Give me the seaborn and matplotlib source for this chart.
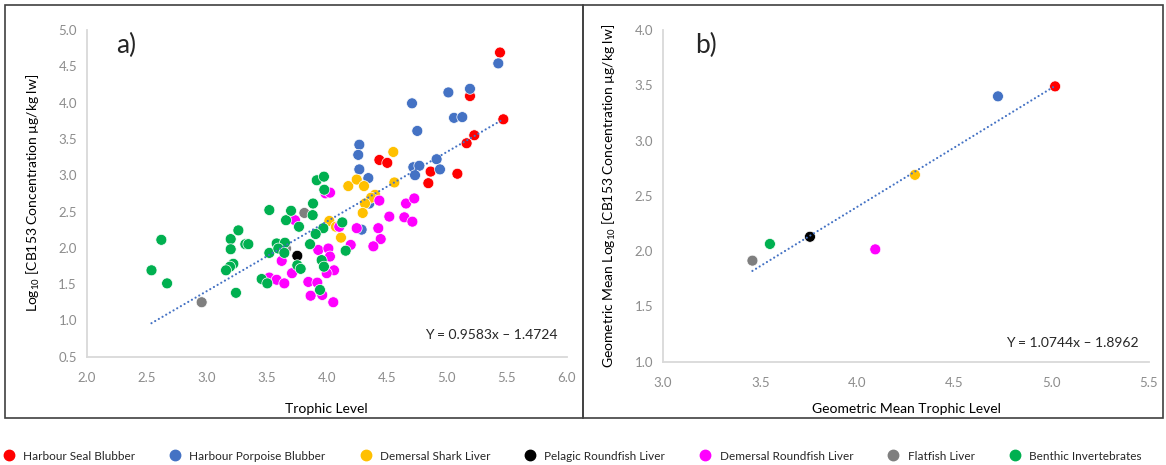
import numpy as np
import pandas as pd
import matplotlib
matplotlib.use("Agg")
import matplotlib.pyplot as plt
import seaborn as sns
from matplotlib.patches import Rectangle
from matplotlib.lines import Line2D

# ---------------- data ----------------
groups = ["Harbour Seal Blubber", "Harbour Porpoise Blubber", "Demersal Shark Liver",
          "Pelagic Roundfish Liver", "Demersal Roundfish Liver", "Flatfish Liver",
          "Benthic Invertebrates"]
colors = ["#FF0000", "#4472C4", "#FFC000", "#000000", "#FF00FF", "#7F7F7F", "#00B050"]

seal_x = [5.444, 5.194, 5.472, 5.230, 5.166, 4.439, 4.505, 4.866, 5.089, 4.847]
seal_y = [4.69, 4.09, 3.77, 3.55, 3.44, 3.21, 3.17, 3.05, 3.02, 2.89]

porp_x = [5.430, 5.194, 5.014, 4.711, 5.061, 5.130, 4.755, 4.916, 4.722, 4.772,
          4.944, 4.736, 4.272, 4.263, 4.272, 4.347, 4.355, 4.291]
porp_y = [4.54, 4.19, 4.14, 3.99, 3.79, 3.80, 3.61, 3.22, 3.11, 3.13,
          3.08, 3.00, 3.42, 3.28, 3.08, 2.96, 2.61, 2.25]

shark_x = [4.555, 4.564, 4.18, 4.25, 4.311, 4.403, 4.37, 4.319, 4.30, 4.022, 4.077, 4.119]
shark_y = [3.32, 2.90, 2.85, 2.94, 2.85, 2.73, 2.69, 2.61, 2.48, 2.37, 2.29, 2.14]

pel_x = [3.755]
pel_y = [1.89]

dem_x = [3.736, 3.99, 4.028, 4.105, 4.25, 4.43, 4.45, 4.389, 4.20, 3.93,
         4.014, 4.027, 4.061, 4.00, 3.625, 3.711, 3.522, 3.583, 3.647, 3.847,
         3.922, 3.866, 3.963, 4.055, 4.439, 4.661, 4.730, 4.522, 4.647, 4.714]
dem_y = [2.38, 2.75, 2.76, 2.29, 2.27, 2.27, 2.12, 2.02, 2.04, 1.97,
         1.99, 1.88, 1.69, 1.65, 1.82, 1.65, 1.59, 1.56, 1.51, 1.53,
         1.52, 1.34, 1.35, 1.25, 2.65, 2.61, 2.68, 2.43, 2.42, 2.36]

flat_x = [2.958, 3.814, 3.661]
flat_y = [1.25, 2.48, 1.99]

ben_x = [2.54, 2.622, 2.67, 3.522, 3.264, 3.200, 3.200, 3.322, 3.347, 3.222,
         3.194, 3.161, 3.244, 3.458, 3.505, 3.522, 3.583, 3.652, 3.597, 3.647,
         3.661, 3.703, 3.769, 3.886, 3.883, 3.917, 3.977, 3.980, 3.972, 4.130,
         3.908, 3.861, 3.958, 3.977, 3.755, 3.783, 4.158, 3.944]
ben_y = [1.69, 2.11, 1.51, 2.52, 2.24, 2.12, 1.98, 2.05, 2.05, 1.78,
         1.74, 1.69, 1.38, 1.57, 1.51, 1.93, 2.06, 2.07, 1.99, 1.93,
         2.38, 2.51, 2.29, 2.61, 2.45, 2.93, 2.98, 2.80, 2.27, 2.35,
         2.19, 2.05, 1.83, 1.74, 1.76, 1.71, 1.96, 1.42]

# panel b: geometric means (same group order)
gm_x = [5.017, 4.723, 4.296, 3.756, 4.092, 3.46, 3.55]
gm_y = [3.49, 3.40, 2.69, 2.13, 2.016, 1.914, 2.065]

fit_a = (0.9583, -1.4724)
fit_b = (1.0744, -1.8962)
eq_a = "Y = 0.9583x – 1.4724"
eq_b = "Y = 1.0744x – 1.8962"

xticks_a = [2.0, 2.5, 3.0, 3.5, 4.0, 4.5, 5.0, 5.5, 6.0]
yticks_a = [0.5, 1.0, 1.5, 2.0, 2.5, 3.0, 3.5, 4.0, 4.5, 5.0]
xticks_b = [3.0, 3.5, 4.0, 4.5, 5.0, 5.5]
yticks_b = [1.0, 1.5, 2.0, 2.5, 3.0, 3.5, 4.0]

# ---------------- frames ----------------
xs = [seal_x, porp_x, shark_x, pel_x, dem_x, flat_x, ben_x]
ys = [seal_y, porp_y, shark_y, pel_y, dem_y, flat_y, ben_y]
dfa = pd.concat([pd.DataFrame({"x": x, "y": y, "group": g}) for x, y, g in zip(xs, ys, groups)],
                ignore_index=True)
dfb = pd.DataFrame({"x": gm_x, "y": gm_y, "group": groups})

# ---------------- style ----------------
sns.set_theme(style="white")
plt.rcParams["font.family"] = ["Lato", "DejaVu Sans"]
plt.rcParams["mathtext.fontset"] = "custom"
plt.rcParams["mathtext.rm"] = "Lato"
plt.rcParams["mathtext.it"] = "Lato:italic"

W, H = 1166, 465
fig = plt.figure(figsize=(W / 100, H / 100), dpi=100)

def fx(px):
    return px / W

def fy(py):
    return 1 - py / H

ax_a = fig.add_axes([fx(86.7), fy(356.7), fx(566.7 - 86.7), (356.7 - 30) / H])
ax_b = fig.add_axes([fx(663), fy(361.7), fx(1149 - 663), (361.7 - 30) / H])

pal = dict(zip(groups, colors))
for ax, df in ((ax_a, dfa), (ax_b, dfb)):
    sns.scatterplot(data=df, x="x", y="y", hue="group", hue_order=groups, palette=pal,
                    s=62, edgecolor="white", linewidth=0.5, legend=False, ax=ax, zorder=3)

# trend lines (dotted)
for ax, df, (m, c) in ((ax_a, dfa, fit_a), (ax_b, dfb, fit_b)):
    lx = np.array([df["x"].min(), df["x"].max()])
    ax.plot(lx, m * lx + c, color="#4472C4", lw=1.6, ls=(0, (0.01, 1.9)),
            dash_capstyle="round", zorder=4)

tick_col = "#8C8C8C"
for ax, xt, yt in ((ax_a, xticks_a, yticks_a), (ax_b, xticks_b, yticks_b)):
    ax.set_xlim(xt[0], xt[-1])
    ax.set_ylim(yt[0], yt[-1])
    ax.set_xticks(xt)
    ax.set_yticks(yt)
    ax.set_xticklabels([f"{v:.1f}" for v in xt])
    ax.set_yticklabels([f"{v:.1f}" for v in yt])
    ax.tick_params(axis="both", length=0, labelsize=9.5, colors=tick_col)
    ax.tick_params(axis="x", pad=11)
    ax.tick_params(axis="y", pad=7)
    for s in ("top", "right"):
        ax.spines[s].set_visible(False)
    for s in ("left", "bottom"):
        ax.spines[s].set_color("#D9D9D9")
        ax.spines[s].set_linewidth(1.3)
    ax.grid(False)
    ax.set_facecolor("none")

ax_a.set_xlabel("Trophic Level", fontsize=10, color="black", labelpad=14)
ax_a.set_ylabel(r"Log$_{\mathrm{10}}$ [CB153 Concentration µg/kg lw]", fontsize=10,
                color="black", labelpad=12)
ax_b.set_xlabel("Geometric Mean Trophic Level", fontsize=10, color="black", labelpad=14)
ax_b.set_ylabel(r"Geometric Mean Log$_{\mathrm{10}}$ [CB153 Concentration µg/kg lw]",
                fontsize=10, color="black", labelpad=12)
ax_a.xaxis.set_label_coords(0.5, -(403 - 356.7) / (356.7 - 30))
ax_b.xaxis.set_label_coords(0.5, -(403 - 361.7) / (361.7 - 30))

fig.text(fx(126), fy(45), "a)", fontsize=19, ha="center", va="center")
fig.text(fx(706), fy(45), "b)", fontsize=19, ha="center", va="center")
fig.text(fx(491), fy(335), eq_a, fontsize=10, ha="center", va="center")
fig.text(fx(1072), fy(343), eq_b, fontsize=10, ha="center", va="center")

# panel frames
for x0, x1 in ((5, 583), (583, 1163)):
    fig.add_artist(Rectangle((fx(x0), fy(418)), fx(x1 - x0), (418 - 5) / H,
                             transform=fig.transFigure, fill=False,
                             edgecolor="#404040", lw=1.2))

# legend
handles = [Line2D([], [], marker="o", ls="", color=c, markeredgecolor=c, markersize=7.5)
           for c in colors]
fig.legend(handles, groups, loc="center", bbox_to_anchor=(fx(572), fy(456)), ncol=7,
           frameon=False, fontsize=8.5, handletextpad=0.7, columnspacing=2.9,
           handlelength=1.0)

fig.savefig("out.png", dpi=100)
